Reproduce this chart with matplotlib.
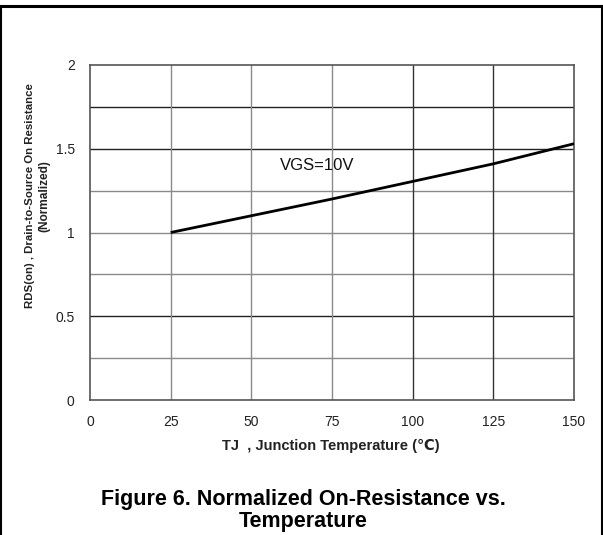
import matplotlib
matplotlib.use("Agg")
import matplotlib.pyplot as plt
from matplotlib.lines import Line2D

plt.rcParams['font.family'] = ['Liberation Sans', 'DejaVu Sans']

# data
temp_c = [25, 50, 75, 100, 125, 150]
rds_norm = [1.00, 1.10, 1.20, 1.305, 1.41, 1.53]
x_ticks = [0, 25, 50, 75, 100, 125, 150]
y_ticks = [0, 0.5, 1, 1.5, 2]
y_ticklabels = ['0', '0.5', '1', '1.5', '2']
h_grid = [0.25, 0.5, 0.75, 1.0, 1.25, 1.5, 1.75]
v_grid = [25, 50, 75, 100, 125]
curve_label = 'VGS=10V'

W, H = 603, 535
fig = plt.figure(figsize=(W / 100, H / 100), dpi=100)
ax = fig.add_axes([90 / W, 1 - 400 / H, (574 - 90) / W, (400 - 65) / H])

dark_h = {0.5, 1.5, 1.75}
for v in h_grid:
    ax.axhline(v, color='#222222' if v in dark_h else '#8a8a8a', lw=1.0, zorder=1)
dark_v = {100, 125}
for v in v_grid:
    ax.axvline(v, color='#333333' if v in dark_v else '#8a8a8a', lw=1.0, zorder=1)

ax.plot(temp_c, rds_norm, color='black', lw=2.0, zorder=3, solid_capstyle='butt')
ax.text(59, 1.40, curve_label, fontsize=12, va='center', ha='left', color='#111111')

ax.set_xlim(0, 150)
ax.set_ylim(0, 2)
ax.set_xticks(x_ticks)
ax.set_xticklabels([str(t) for t in x_ticks])
ax.set_yticks(y_ticks)
ax.set_yticklabels(y_ticklabels)
ax.tick_params(length=0, labelsize=10, labelcolor='#222222')
ax.tick_params(axis='x', pad=11)
ax.tick_params(axis='y', pad=11)
for s in ax.spines.values():
    s.set_color('#555555')
    s.set_linewidth(1.2)

# axis labels
fig.text(30 / W, 1 - 196 / H,
         'RDS(on) , Drain-to-Source On Resistance',
         rotation=90, ha='center', va='center', fontsize=8.2, fontweight='bold', color='#222222')
fig.text(44 / W, 1 - 196 / H, '(Normalized)',
         rotation=90, ha='center', va='center', fontsize=8.6, fontweight='bold', color='#222222')
fig.text(331 / W, 1 - 446 / H, 'TJ  , Junction Temperature (℃)',
         ha='center', va='center', fontsize=10.5, fontweight='bold', color='#222222',
         family=['Liberation Sans', 'DejaVu Sans'])

# caption
fig.text(303 / W, 1 - 505 / H, 'Figure 6. Normalized On-Resistance vs.',
         ha='center', va='baseline', fontsize=15.5, fontweight='bold')
fig.text(303 / W, 1 - 527 / H, 'Temperature',
         ha='center', va='baseline', fontsize=15.5, fontweight='bold')

# frame lines
fig.add_artist(Line2D([0, 1], [1 - 6 / H, 1 - 6 / H], transform=fig.transFigure, color='black', lw=2.2))
fig.add_artist(Line2D([1 / W, 1 / W], [0, 1 - 6 / H], transform=fig.transFigure, color='black', lw=1.5))
fig.add_artist(Line2D([601.5 / W, 601.5 / W], [0, 1 - 6 / H], transform=fig.transFigure, color='black', lw=1.5))

fig.savefig('out.png', dpi=100)
